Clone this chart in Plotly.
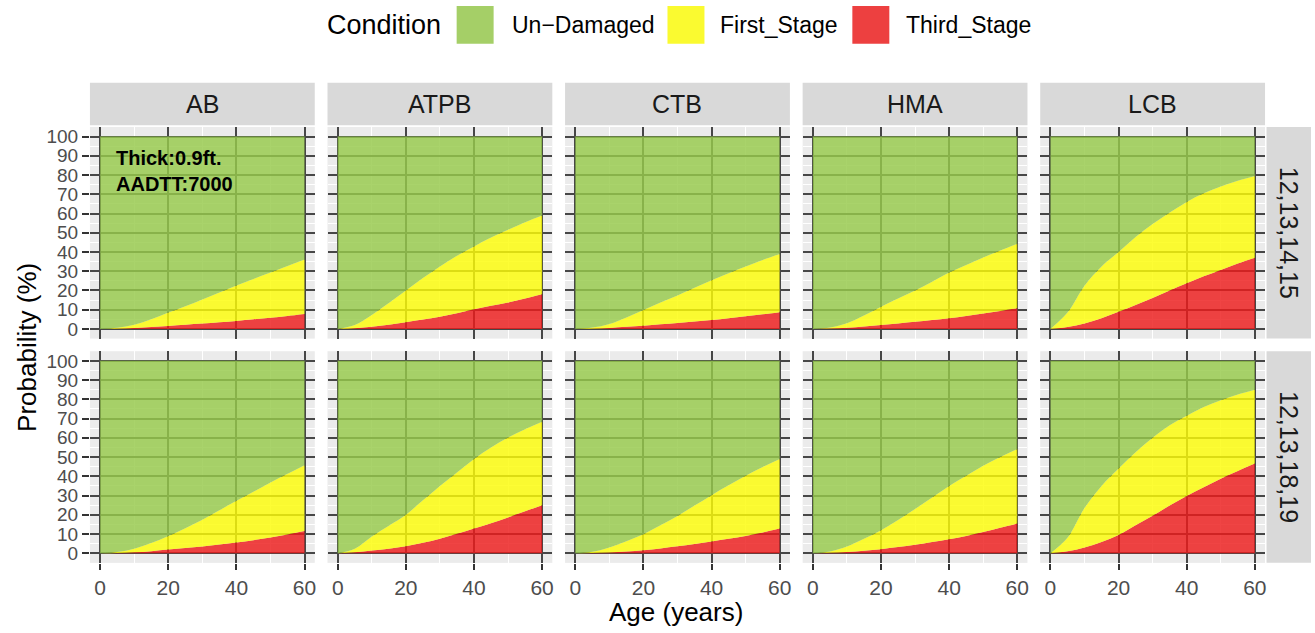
import plotly.graph_objects as go

# ---------------- data ----------------
ages = [0, 5, 10, 15, 20, 25, 30, 35, 40, 45, 50, 55, 60]
materials = ["AB", "ATPB", "CTB", "HMA", "LCB"]
climate_zones = ["12,13,14,15", "12,13,18,19"]
conditions = ["Un\u2212Damaged", "First_Stage", "Third_Stage"]
y_ticks = [0, 10, 20, 30, 40, 50, 60, 70, 80, 90, 100]
x_ticks = [0, 20, 40, 60]

# Upper edge of the yellow band = First_Stage + Third_Stage (%)
# Upper edge of the red band = Third_Stage (%)
ab_z1_damaged = [0, 0.6, 2.2, 5.0, 8.5, 11.8, 15.3, 19.0, 22.6, 26.0, 29.3, 32.7, 36.1]
ab_z1_third = [0, 0.1, 0.5, 1.0, 1.6, 2.2, 2.8, 3.5, 4.2, 5.0, 5.8, 6.8, 7.8]
atpb_z1_damaged = [0, 2.0, 7.3, 13.5, 20.0, 26.5, 32.5, 38.0, 42.9, 47.5, 51.6, 55.5, 59.0]
atpb_z1_third = [0, 0.4, 1.2, 2.2, 3.5, 4.9, 6.4, 8.2, 10.2, 12.0, 13.7, 15.8, 18.0]
ctb_z1_damaged = [0, 0.7, 2.6, 6.0, 9.9, 13.7, 17.4, 21.4, 25.3, 29.0, 32.5, 35.8, 38.9]
ctb_z1_third = [0, 0.1, 0.5, 1.1, 1.7, 2.4, 3.1, 3.9, 4.7, 5.6, 6.6, 7.6, 8.7]
hma_z1_damaged = [0, 0.8, 3.0, 7.0, 11.6, 15.8, 20.0, 24.6, 29.3, 33.3, 37.2, 40.8, 44.3]
hma_z1_third = [0, 0.2, 0.6, 1.3, 2.1, 2.9, 3.7, 4.6, 5.6, 6.8, 8.0, 9.4, 10.8]
lcb_z1_damaged = [0, 8.5, 22.5, 32.5, 40.0, 47.8, 54.5, 60.5, 66.0, 70.5, 74.0, 77.0, 79.5]
lcb_z1_third = [0, 1.0, 2.8, 5.6, 8.9, 12.4, 16.1, 20.0, 23.8, 27.4, 30.7, 34.0, 37.0]

ab_z2_damaged = [0, 0.6, 2.4, 5.3, 9.0, 13.0, 17.4, 22.3, 27.3, 32.0, 36.8, 41.3, 45.8]
ab_z2_third = [0, 0.1, 0.5, 1.1, 1.9, 2.7, 3.5, 4.5, 5.6, 6.8, 8.2, 9.8, 11.5]
atpb_z2_damaged = [0, 2.3, 8.7, 14.3, 20.0, 27.5, 35.0, 42.0, 49.0, 55.0, 60.2, 64.5, 68.4]
atpb_z2_third = [0, 0.5, 1.4, 2.4, 3.6, 5.4, 7.6, 10.1, 12.8, 15.6, 18.6, 21.8, 25.0]
ctb_z2_damaged = [0, 0.8, 3.0, 6.3, 9.9, 14.5, 19.4, 24.8, 30.2, 35.3, 40.3, 44.8, 49.0]
ctb_z2_third = [0, 0.1, 0.4, 0.9, 1.6, 2.5, 3.6, 4.8, 6.1, 7.5, 9.0, 10.8, 12.8]
hma_z2_damaged = [0, 0.9, 3.5, 7.5, 12.0, 17.3, 23.0, 29.0, 35.0, 40.3, 45.5, 50.0, 54.2]
hma_z2_third = [0, 0.2, 0.6, 1.3, 2.1, 3.2, 4.4, 5.8, 7.3, 9.0, 11.0, 13.2, 15.5]
lcb_z2_damaged = [0, 8.0, 23.5, 35.0, 44.0, 52.5, 60.0, 66.5, 71.5, 76.0, 79.5, 82.5, 85.0]
lcb_z2_third = [0, 1.0, 3.0, 5.8, 9.5, 14.5, 19.5, 24.8, 29.7, 34.3, 38.7, 42.8, 46.6]

damaged = [
    [ab_z1_damaged, atpb_z1_damaged, ctb_z1_damaged, hma_z1_damaged, lcb_z1_damaged],
    [ab_z2_damaged, atpb_z2_damaged, ctb_z2_damaged, hma_z2_damaged, lcb_z2_damaged],
]
third = [
    [ab_z1_third, atpb_z1_third, ctb_z1_third, hma_z1_third, lcb_z1_third],
    [ab_z2_third, atpb_z2_third, ctb_z2_third, hma_z2_third, lcb_z2_third],
]

# ---------------- styling ----------------
W, H = 1315, 633
FONT = "Liberation Sans, Arial, Helvetica, sans-serif"
fill_green = "rgba(150,201,74,0.82)"
fill_yellow = "rgba(253,253,7,0.82)"
fill_red = "rgba(237,27,27,0.82)"
key_colors = ["rgb(165,207,103)", "rgb(250,250,48)", "rgb(237,64,64)"]
panel_bg = "#EBEBEB"
grid_dark = "#474747"
strip_bg = "#D9D9D9"


def px_x(p):
    return p / W


def px_y(p):
    return 1 - p / H


col_left = [90 + i * 237.75 for i in range(5)]
panel_w = 225
row_top = [126.35, 351.35]
panel_h = 212.3

fig = go.Figure()
layout = dict(
    width=W, height=H, autosize=False,
    margin=dict(l=0, r=0, t=0, b=0, pad=0),
    paper_bgcolor="white", plot_bgcolor=panel_bg,
    showlegend=False, hovermode=False,
    font=dict(family=FONT, color="#1A1A1A"),
)
shapes = []
annotations = []

for r in range(2):
    for c in range(5):
        k = r * 5 + c + 1
        xa = "xaxis" if k == 1 else f"xaxis{k}"
        ya = "yaxis" if k == 1 else f"yaxis{k}"
        xr = "x" if k == 1 else f"x{k}"
        yr = "y" if k == 1 else f"y{k}"
        x0, x1 = col_left[c], col_left[c] + panel_w
        y0, y1 = row_top[r], row_top[r] + panel_h
        bottom = r == 1
        left = c == 0
        layout[xa] = dict(
            domain=[px_x(x0), px_x(x1)], anchor=yr, range=[-3, 63],
            tickmode="array", tickvals=x_ticks,
            showgrid=True, gridcolor=grid_dark, gridwidth=2,
            minor=dict(tickmode="array", tickvals=[10, 30, 50], showgrid=True,
                       gridcolor="white", gridwidth=1.2, ticks=""),
            zeroline=False, showline=False,
            ticks="outside" if bottom else "", ticklen=6, tickwidth=2, tickcolor="#333333",
            showticklabels=bottom,
            tickfont=dict(family=FONT, size=21, color="#4D4D4D"),
            fixedrange=True,
        )
        layout[ya] = dict(
            domain=[px_y(y1), px_y(y0)], anchor=xr, range=[-5, 105],
            tickmode="array", tickvals=y_ticks,
            showgrid=True, gridcolor=grid_dark, gridwidth=2,
            minor=dict(tickmode="array", tickvals=[5, 15, 25, 35, 45, 55, 65, 75, 85, 95],
                       showgrid=True, gridcolor="white", gridwidth=1.2, ticks=""),
            zeroline=False, showline=False,
            ticks="outside" if left else "", ticklen=7, tickwidth=2, tickcolor="#333333",
            showticklabels=left,
            tickfont=dict(family=FONT, size=19, color="#4D4D4D"),
            fixedrange=True,
        )
        top_line = [100 for _ in ages]
        fig.add_trace(go.Scatter(x=ages, y=third[r][c], mode="lines", fill="tozeroy",
                                 fillcolor=fill_red, line=dict(width=0, shape="spline", smoothing=1.0),
                                 xaxis=xr, yaxis=yr, name=conditions[2]))
        fig.add_trace(go.Scatter(x=ages, y=damaged[r][c], mode="lines", fill="tonexty",
                                 fillcolor=fill_yellow, line=dict(width=0, shape="spline", smoothing=1.0),
                                 xaxis=xr, yaxis=yr, name=conditions[1]))
        fig.add_trace(go.Scatter(x=ages, y=top_line, mode="lines", fill="tonexty",
                                 fillcolor=fill_green, line=dict(width=0),
                                 xaxis=xr, yaxis=yr, name=conditions[0]))

# top strips
for c in range(5):
    x0, x1 = col_left[c], col_left[c] + panel_w
    shapes.append(dict(type="rect", xref="paper", yref="paper",
                       x0=px_x(x0), x1=px_x(x1), y0=px_y(124.6), y1=px_y(82),
                       fillcolor=strip_bg, line=dict(width=0), layer="below"))
    annotations.append(dict(text=materials[c], xref="paper", yref="paper",
                            x=px_x((x0 + x1) / 2), y=px_y(103.5), showarrow=False,
                            xanchor="center", yanchor="middle",
                            font=dict(family=FONT, size=25, color="#1A1A1A")))
# right strips
for r in range(2):
    y0, y1 = row_top[r], row_top[r] + panel_h
    shapes.append(dict(type="rect", xref="paper", yref="paper",
                       x0=px_x(1267.5), x1=px_x(1312), y0=px_y(y1), y1=px_y(y0),
                       fillcolor=strip_bg, line=dict(width=0), layer="below"))
    annotations.append(dict(text=climate_zones[r], xref="paper", yref="paper",
                            x=px_x(1290), y=px_y((y0 + y1) / 2), showarrow=False,
                            textangle=90, xanchor="center", yanchor="middle",
                            font=dict(family=FONT, size=25, color="#1A1A1A")))

# axis titles
annotations.append(dict(text="Age (years)", xref="paper", yref="paper",
                        x=px_x(677), y=px_y(613), showarrow=False,
                        xanchor="center", yanchor="middle",
                        font=dict(family=FONT, size=26, color="black")))
annotations.append(dict(text="Probability (%)", xref="paper", yref="paper",
                        x=px_x(27), y=px_y(347), showarrow=False, textangle=-90,
                        xanchor="center", yanchor="middle",
                        font=dict(family=FONT, size=26, color="black")))

# in-panel label
annotations.append(dict(text="Thick:0.9ft.<br>AADTT:7000", xref="x", yref="y",
                        x=4.0, y=82, showarrow=False, align="left",
                        xanchor="left", yanchor="middle",
                        font=dict(family=FONT, size=20, color="black", weight="bold")))

# legend (drawn manually to get ggplot-like large keys)
annotations.append(dict(text="Condition", xref="paper", yref="paper",
                        x=px_x(325), y=px_y(24), showarrow=False,
                        xanchor="left", yanchor="middle",
                        font=dict(family=FONT, size=27, color="black")))
key_x = [457, 668, 853]
label_x = [510, 719, 905]
for i in range(3):
    shapes.append(dict(type="rect", xref="paper", yref="paper",
                       x0=px_x(key_x[i]), x1=px_x(key_x[i] + 37),
                       y0=px_y(43), y1=px_y(5),
                       fillcolor=key_colors[i], line=dict(width=0)))
    annotations.append(dict(text=conditions[i], xref="paper", yref="paper",
                            x=px_x(label_x[i]), y=px_y(24), showarrow=False,
                            xanchor="left", yanchor="middle",
                            font=dict(family=FONT, size=23, color="black")))

layout["shapes"] = shapes
layout["annotations"] = annotations
fig.update_layout(**layout)
fig.write_html("out.html")
